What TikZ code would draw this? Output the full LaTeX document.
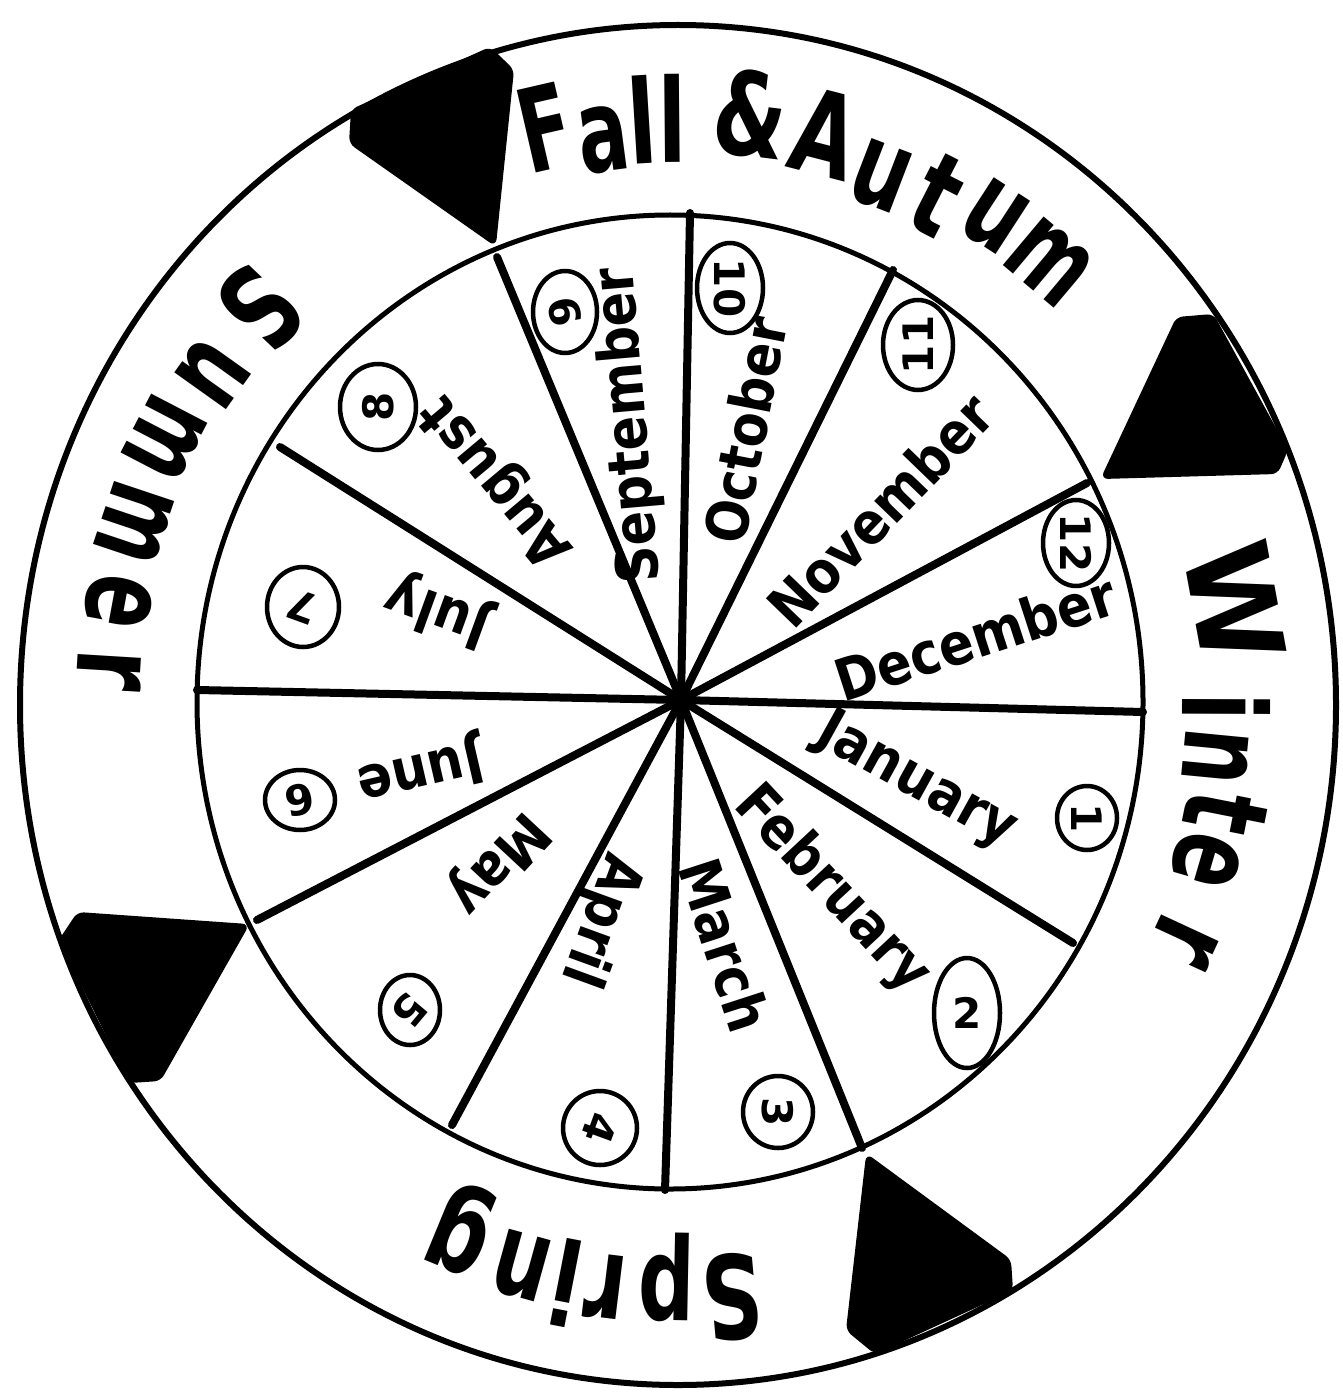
\documentclass[tikz,border=0pt]{standalone}
\usepackage{fontspec}
\setmainfont{DejaVu Sans}
\usetikzlibrary{calc}
\begin{document}
\begin{tikzpicture}[x=1pt,y=-1pt,
  season/.style={font=\fontsize{116}{116}\selectfont\bfseries, inner sep=0pt},
  month/.style={font=\fontsize{58}{58}\selectfont\bfseries, inner sep=0pt},
  digit/.style={font=\fontsize{42}{42}\selectfont\bfseries, inner sep=0pt},
  ring/.style={line width=4.5pt},
  spoke/.style={line width=8pt, line cap=round},
  block/.style={fill=black, draw=black, line width=2pt, rounded corners=6pt}]
\fill[white] (0,0) rectangle (1342,1396);
\useasboundingbox (0,0) rectangle (1342,1396);
\coordinate (O) at (678,705);
\coordinate (C) at (681,700);
% black separator blocks
\filldraw[block] (352,110) -- (490,48) -- (513,70) -- (495,245) -- (350,143) -- cycle;
\filldraw[block] (1177,318) -- (1213,315) -- (1287,450) -- (1277,473) -- (1102,478) -- cycle;
\filldraw[block] (867,1155) -- (1010,1260) -- (1012,1290) -- (875,1353) -- (847,1330) -- cycle;
\filldraw[block] (78,913) -- (248,925) -- (160,1080) -- (130,1082) -- (60,940) -- cycle;
% circles
\draw[line width=6pt] (O) ellipse [x radius=658, y radius=680];
\draw[line width=5pt] (670,702) ellipse [x radius=473, y radius=487];
% spokes
\foreach \x/\y [count=\i] in {690/213, 893/270, 1087/483, 1143/712, 1073/943, 862/1148, 665/1190, 452/1125, 257/920, 197/690, 280/447, 497/257}
  \coordinate (e\i) at (\x,\y);
\foreach \i in {1,...,12} \draw[spoke] (C) -- (e\i);
% seasons
\foreach \ch/\a/\r/\s [count=\i] in {F/103/593/0.65, a/97.5/570/0.65, l/93.5/586/0.72, l/90.5/587/0.72, \&/83/595/0.72, A/75.5/590/0.7, u/69/566/0.68, t/63/572/0.72, u/57/582/0.68, m/50/578/0.65}
  \node[season, rotate=\a-90, xscale=\s] (fall\i) at ($(O)+({0-(\a)}:\r)$) {\ch};
\foreach \ch/\a/\r/\s [count=\i] in {W/10.4/566/0.95, i/-0.2/549/0.72, n/-5.5/541/0.68, t/-11.2/558/0.72, e/-16.3/551/0.68, r/-24.9/559/0.72}
  \node[season, rotate=\a-90, xscale=\s] (win\i) at ($(O)+({0-(\a)}:\r)$) {\ch};
\foreach \ch/\a/\r/\s [count=\i] in {S/275.2/595/0.72, p/268.9/572/0.68, r/263/587/0.72, i/259/589/0.72, n/254.5/583/0.68, g/247.6/566/0.72}
  \node[season, rotate=\a-90, xscale=\s] (spr\i) at ($(O)+({0-(\a)}:\r)$) {\ch};
\foreach \ch/\a/\r/\s [count=\i] in {S/136.5/576/0.72, u/144.5/572/0.68, m/152.5/578/0.65, m/161.5/573/0.65, e/169.5/569/0.68, r/176.5/569/0.72}
  \node[season, rotate=\a+90, xscale=\s] (sum\i) at ($(O)+({0-(\a)}:\r)$) {\ch};
% months
\node[month, rotate=-29, xscale=0.88]  (jan) at (916,782) {January};
\node[month, rotate=-47, xscale=0.88]  (feb) at (832,890) {February};
\node[month, rotate=-72, xscale=0.88]  (mar) at (725,945) {March};
\node[month, rotate=-110, xscale=0.88] (apr) at (600,920) {April};
\node[month, rotate=-133, xscale=0.88] (may) at (497,862) {May};
\node[month, rotate=-167, xscale=0.88] (jun) at (420,770) {June};
\node[month, rotate=160, xscale=0.88]  (jul) at (438,610) {July};
\node[month, rotate=130, xscale=0.88]  (aug) at (498,480) {August};
\node[month, rotate=95, xscale=0.88]   (sep) at (630,425) {September};
\node[month, rotate=79, xscale=0.88]   (oct) at (745,430) {October};
\node[month, rotate=46, xscale=0.88]   (nov) at (880,510) {November};
\node[month, rotate=18, xscale=0.88]   (dec) at (975,637) {December};
% circled numbers
\foreach \t/\x/\y/\rx/\ry/\rot [count=\i] in {
  1/1087/818/30/32/-90, 2/967/1013/33/55/0, 3/778/1112/35/36/-90, 4/600/1128/37/37/-110,
  5/410/1010/30/35/-130, 6/300/800/35/30/-170, 7/303/607/36/40/160, 8/378/407/38/43/90,
  9/565/312/32/41/100, 10/730/288/33/45/-90, 11/918/345/35/45/90, 12/1076/543/33/43/-90}
{
  \node[digit, rotate=\rot] (n\i) at (\x,\y) {\t};
  \draw[ring] (n\i.center) ellipse [x radius=\rx, y radius=\ry];
}
\end{tikzpicture}
\end{document}
